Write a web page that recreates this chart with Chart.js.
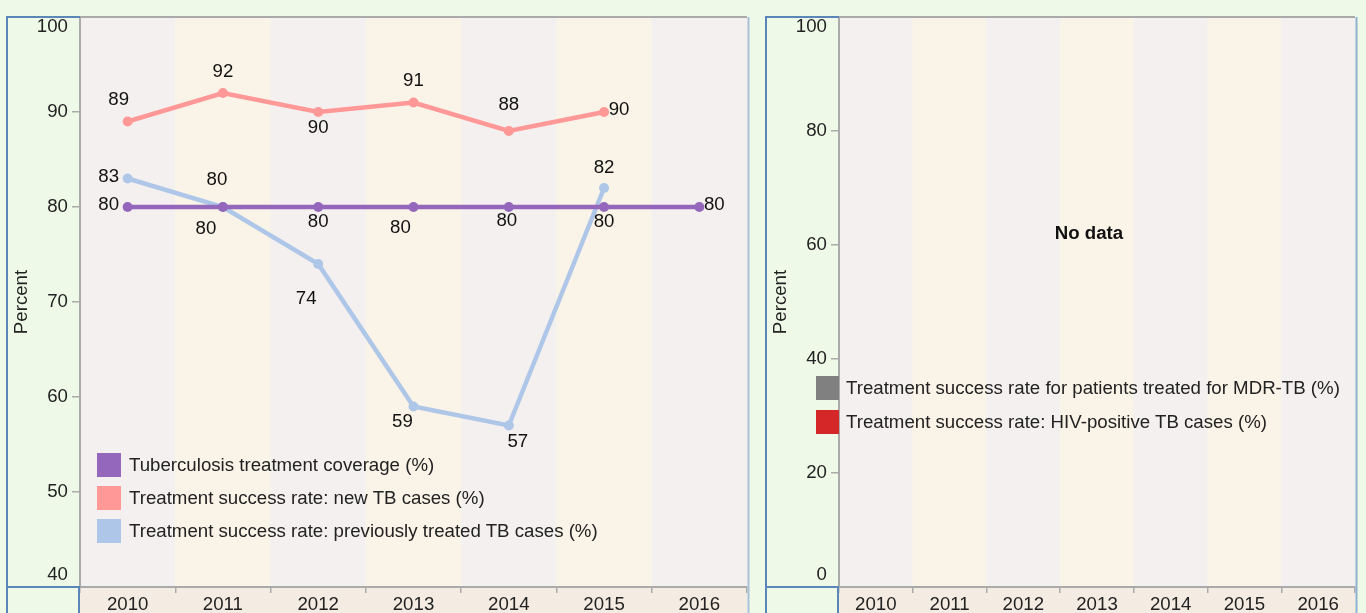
<!DOCTYPE html>
<html>
<head>
<meta charset="utf-8">
<script src="https://cdn.jsdelivr.net/npm/chart.js@4.4.0/dist/chart.umd.min.js"></script>
<style>
html,body{margin:0;padding:0;background:#EFF9E8;width:1366px;height:613px;overflow:hidden;font-family:"Liberation Sans",Arial,sans-serif;}
canvas{position:absolute;display:block;}
#c1{left:6px;top:12px;}
#c2{left:765px;top:12px;}
.legend{position:absolute;font-size:18.67px;color:#222;}
.legend .row{display:flex;align-items:center;white-space:nowrap;}
.legend .sw{width:24px;height:24px;margin-right:8px;flex:none;}
#lg1{left:97px;top:448px;}
#lg1 .row{height:33px;}
#lg2{left:816px;top:371px;}
#lg2 .row{height:34px;}
#lg2 .sw{width:23px;margin-right:7px;}
</style>
</head>
<body>
<canvas id="c1" width="746" height="601"></canvas>
<canvas id="c2" width="595" height="601"></canvas>
<div id="lg1" class="legend"></div>
<div id="lg2" class="legend"></div>
<script>
// ---- data ----
const years = ['2010','2011','2012','2013','2014','2015','2016'];
const coverage = [80, 80, 80, 80, 80, 80, 80];
const successNew = [89, 92, 90, 91, 88, 90, null];
const successPrev = [83, 80, 74, 59, 57, 82, null];
const successMDR = [null, null, null, null, null, null, null];
const successHIV = [null, null, null, null, null, null, null];
const leftTicks = [40, 50, 60, 70, 80, 90, 100];
const rightTicks = [0, 20, 40, 60, 80, 100];
const seriesNames = [
  'Tuberculosis treatment coverage (%)',
  'Treatment success rate: new TB cases (%)',
  'Treatment success rate: previously treated TB cases (%)'
];
const seriesNamesRight = [
  'Treatment success rate for patients treated for MDR-TB (%)',
  'Treatment success rate: HIV-positive TB cases (%)'
];

// ---- styles ----
const FONT = '"Liberation Sans", Arial, sans-serif';
const FS = 18.67;
const colors = ['#9467bd', '#ff9896', '#aec7e8'];
const colorsRight = ['#808080', '#d62728'];
// label offsets (dx, dy) relative to each point
const coverageLabelOff = [[-19,-2],[-17,22],[0,15],[-13,21],[-2,14],[0,15],[15,-2]];
const newLabelOff = [[-9,-22],[0,-21],[0,16],[0,-22],[0,-26],[15,-2],null];
const prevLabelOff = [[-19,-2],[-6,-27],[-12,35],[-11,15],[9,16],[0,-20],null];

const bandA = '#F5F0F0', bandB = '#FAF3E7', xRowBg = '#F4ECE2';
const blue = '#5b86b8', grey = '#aaaaaa';

const panelPlugin = {
  id: 'panel',
  beforeDraw(chart, args, opts) {
    const {ctx, chartArea: a, scales} = chart;
    const x = scales.x;
    const n = years.length;
    const w = (a.right - a.left) / n;
    ctx.save();
    ctx.fillStyle = xRowBg;
    ctx.fillRect(a.left, a.bottom, a.right - a.left, chart.height - a.bottom);
    for (let i = 0; i < n; i++) {
      const cx = x.getPixelForValue(i);
      ctx.fillStyle = i % 2 === 0 ? bandA : bandB;
      ctx.fillRect(cx - w / 2, a.top, w, a.bottom - a.top);
    }
    ctx.restore();
  },
  afterDraw(chart, args, opts) {
    const {ctx, chartArea: a, scales} = chart;
    const y = scales.y;
    ctx.save();
    // y tick labels (kept inside plot height)
    ctx.font = FS + 'px ' + FONT;
    ctx.fillStyle = '#222';
    ctx.textAlign = 'right';
    ctx.textBaseline = 'middle';
    opts.ticks.forEach(v => {
      let py = y.getPixelForValue(v);
      py = Math.max(a.top + 10, Math.min(a.bottom - 12, py));
      ctx.fillText(String(v), a.left - 12, py);
    });
    // borders
    ctx.lineWidth = 2;
    ctx.strokeStyle = grey;
    ctx.beginPath();
    ctx.moveTo(a.left, a.top); ctx.lineTo(a.right, a.top);
    ctx.stroke();
    ctx.strokeStyle = opts.rightColor;
    ctx.beginPath();
    ctx.moveTo(a.right + 1.5, a.top); ctx.lineTo(a.right + 1.5, chart.height);
    ctx.stroke();
    ctx.strokeStyle = blue;
    ctx.beginPath();
    ctx.moveTo(1, a.top); ctx.lineTo(1, chart.height);
    ctx.moveTo(0, a.top); ctx.lineTo(a.left, a.top);
    ctx.moveTo(0, a.bottom); ctx.lineTo(a.left, a.bottom);
    ctx.moveTo(a.left - 1, a.bottom); ctx.lineTo(a.left - 1, chart.height);
    ctx.stroke();
    if (opts.noData) {
      ctx.font = 'bold ' + FS + 'px ' + FONT;
      ctx.fillStyle = '#111';
      ctx.textAlign = 'center';
      ctx.fillText('No data', (a.left + a.right) / 2 - 8, a.top + (a.bottom - a.top) * 0.381);
    }
    ctx.restore();
  },
  afterDatasetsDraw(chart, args, opts) {
    const {ctx} = chart;
    ctx.save();
    ctx.font = FS + 'px ' + FONT;
    ctx.fillStyle = '#111';
    ctx.textAlign = 'center';
    ctx.textBaseline = 'middle';
    chart.data.datasets.forEach((ds, di) => {
      const meta = chart.getDatasetMeta(di);
      meta.data.forEach((pt, i) => {
        const v = ds.data[i];
        if (v == null || !ds.labelOff || !ds.labelOff[i]) return;
        const [dx, dy] = ds.labelOff[i];
        ctx.fillText(String(v), pt.x + dx, pt.y + dy);
      });
    });
    ctx.restore();
  }
};

function makeOptions(min, max, step, ticks, rightColor, noData) {
  return {
    responsive: false,
    animation: false,
    devicePixelRatio: 1,
    layout: {padding: {top: 2, right: 3, left: 0, bottom: 0}},
    plugins: {
      legend: {display: false},
      tooltip: {enabled: false},
      panel: {ticks, rightColor, noData}
    },
    scales: {
      x: {
        type: 'category',
        offset: true,
        grid: {display: true, drawOnChartArea: false, offset: true, tickLength: 6, color: grey, lineWidth: 1.5},
        border: {display: true, color: grey, width: 2},
        ticks: {font: {size: FS, family: FONT}, color: '#222', padding: 1, maxRotation: 0, autoSkip: false},
        afterFit(s) { s.height = 26; }
      },
      y: {
        min, max,
        ticks: {display: false, stepSize: step},
        grid: {display: true, drawOnChartArea: false, tickLength: 8, color: grey, lineWidth: 1.5},
        border: {display: true, color: grey, width: 2},
        title: {display: true, text: 'Percent', font: {size: FS, family: FONT}, color: '#222', padding: {top: 5, bottom: 0}},
        afterFit(s) { s.width = 74; }
      }
    }
  };
}

function lineDs(label, data, color, labelOff) {
  return {
    label, data, labelOff,
    borderColor: color, backgroundColor: color,
    pointBackgroundColor: color, pointBorderColor: color,
    borderWidth: 4.5, pointRadius: 5, pointBorderWidth: 0,
    tension: 0, spanGaps: false
  };
}

new Chart(document.getElementById('c1'), {
  type: 'line',
  data: {
    labels: years,
    datasets: [
      lineDs(seriesNames[0], coverage, colors[0], coverageLabelOff),
      lineDs(seriesNames[1], successNew, colors[1], newLabelOff),
      lineDs(seriesNames[2], successPrev, colors[2], prevLabelOff)
    ]
  },
  options: makeOptions(leftTicks[0], leftTicks[leftTicks.length - 1], 10, leftTicks, '#a9c0d8', false),
  plugins: [panelPlugin]
});

new Chart(document.getElementById('c2'), {
  type: 'line',
  data: {
    labels: years,
    datasets: [
      lineDs(seriesNamesRight[0], successMDR, colorsRight[0], null),
      lineDs(seriesNamesRight[1], successHIV, colorsRight[1], null)
    ]
  },
  options: makeOptions(rightTicks[0], rightTicks[rightTicks.length - 1], 20, rightTicks, '#8fb0d2', true),
  plugins: [panelPlugin]
});

function buildLegend(el, names, cols) {
  names.forEach((nm, i) => {
    const row = document.createElement('div');
    row.className = 'row';
    const sw = document.createElement('div');
    sw.className = 'sw';
    sw.style.background = cols[i];
    const t = document.createElement('span');
    t.textContent = nm;
    row.appendChild(sw); row.appendChild(t);
    el.appendChild(row);
  });
}
buildLegend(document.getElementById('lg1'), seriesNames, colors);
buildLegend(document.getElementById('lg2'), seriesNamesRight, colorsRight);
</script>
</body>
</html>
